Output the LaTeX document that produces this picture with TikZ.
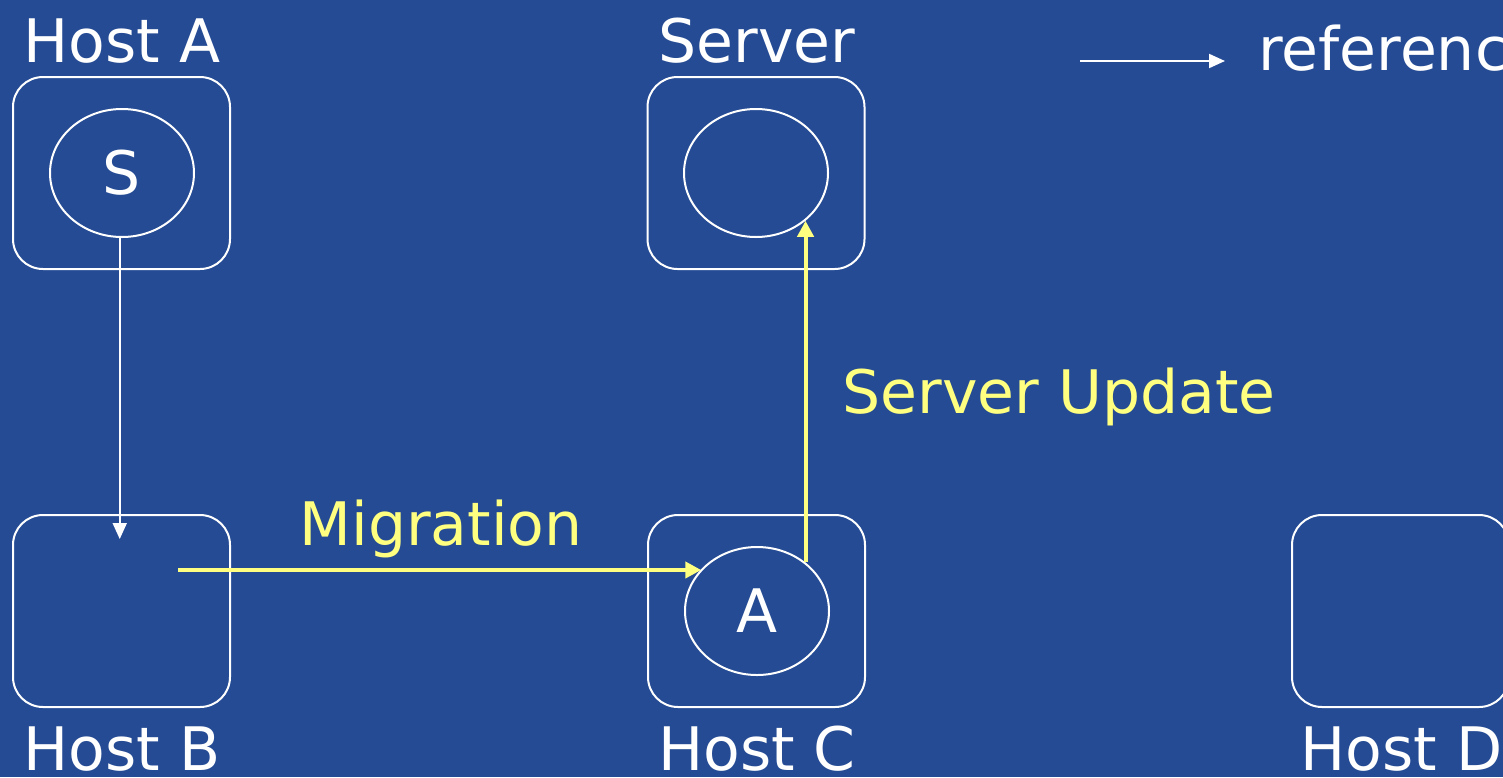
\documentclass[tikz,border=0pt]{standalone}
\usepackage{fontspec}
\setmainfont{DejaVu Sans}
\usetikzlibrary{shapes.geometric,arrows.meta,calc}
\definecolor{slidebg}{RGB}{37,75,148}
\definecolor{hilite}{RGB}{255,255,128}
\newcommand\bigtext{\fontsize{30}{36}\selectfont}
\begin{document}
\begin{tikzpicture}[x=0.5pt,y=-0.5pt,
  host/.style={draw=white,line width=1pt,rounded corners=15pt,
    minimum width=108.5pt,minimum height=96pt,inner sep=0pt},
  proc/.style={draw=white,line width=1pt,ellipse,minimum width=72pt,
    minimum height=64pt,inner sep=0pt,text=white,font=\bigtext},
  hostname/.style={text=white,font=\bigtext,anchor=base,inner sep=0pt,text depth=0pt},
  note/.style={text=hilite,font=\bigtext,anchor=base,inner sep=0pt},
  refarrow/.style={draw=white,line width=1pt,-{Triangle[length=8pt,width=7pt]}},
  movearrow/.style={draw=hilite,line width=2pt,-{Triangle[length=8pt,width=8pt]}}]

% canvas
\useasboundingbox (0,0) rectangle (1503,777);
\clip (0,0) rectangle (1503,777);
\fill[slidebg] (0,0) rectangle (1503,777);

% hosts
\node[host] (ha)  at (121.5,173) {};
\node[host] (srv) at (756,173) {};
\node[host] (hb)  at (121.5,611) {};
\node[host] (hc)  at (756.5,611) {};
\node[host] (hd)  at (1400.5,611) {};

% processes
\node[proc] (S)    at (122,173) {S};
\node[proc] (srvp) at (756,173) {};
\node[proc] (A)    at (757,611) {A};

% host names
\node[hostname] (lha)  at (122,62) {Host A};
\node[hostname] (lsrv) at (757,62) {Server};
\node[hostname] (lhb)  at (122,770) {Host B};
\node[hostname] (lhc)  at (757,770) {Host C};
\node[hostname,anchor=base west] (lhd) at (1300,770) {Host D};

% legend
\coordinate (lg1) at (1080,61);
\coordinate (lg2) at (1225,61);
\draw[refarrow] (lg1) -- (lg2);
\node[hostname,anchor=base west] (lref) at (1258,70) {reference};

% reference from S into host B
\coordinate (bin) at ($(S.-92 |- hb.north)+(0,25)$);
\draw[refarrow] (S.-92) -- (bin);

% migration from host B to host C
\coordinate (mstart) at (178,570);
\draw[movearrow] (mstart) -- (A.143 |- mstart);
\node[note] (mig) at (441,545) {Migration};

% server update
\draw[movearrow] (A.45) -- (A.45 |- srvp.-44);
\node[note,anchor=base west] (upd) at (842,413) {Server Update};
\end{tikzpicture}
\end{document}
